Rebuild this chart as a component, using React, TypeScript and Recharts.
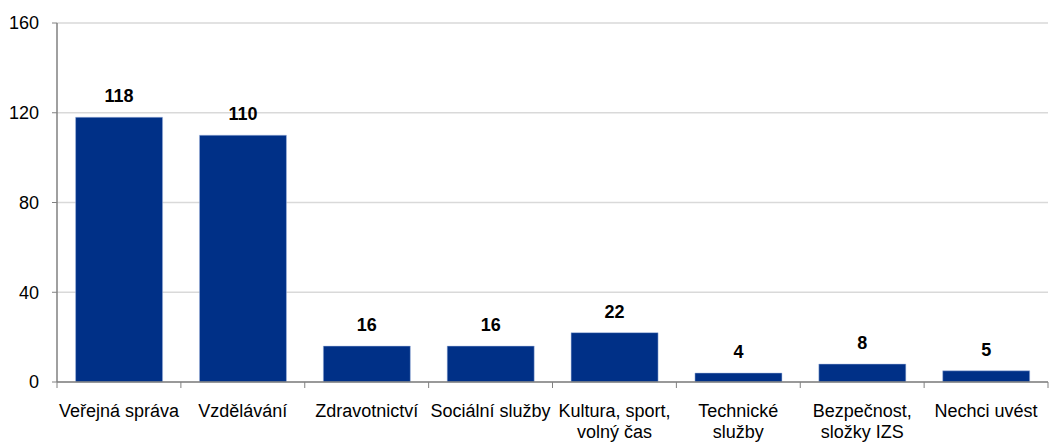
import { BarChart, Bar, XAxis, YAxis, CartesianGrid, LabelList } from "recharts";

const categories = [
  "Veřejná správa",
  "Vzdělávání",
  "Zdravotnictví",
  "Sociální služby",
  "Kultura, sport,|volný čas",
  "Technické|služby",
  "Bezpečnost,|složky IZS",
  "Nechci uvést",
];
const values = [118, 110, 16, 16, 22, 4, 8, 5];
const yTicks = [0, 40, 80, 120, 160];

const data = categories.map((name, i) => ({ name, value: values[i] }));

const W = 1049;
const H = 444;
const M = { top: 23, right: 1, bottom: 0, left: 0 };
const Y_W = 57;
const BAND = (W - M.left - M.right - Y_W) / categories.length;
const FONT = "Liberation Sans, Arial, sans-serif";

const CategoryTick = (props: any) => {
  const { x, y, payload, index } = props;
  const lines = String(payload.value).split("|");
  return (
    <g>
      <line x1={x - BAND / 2} x2={x - BAND / 2} y1={y - 8} y2={y - 2} stroke="#808080" />
      {index === categories.length - 1 && (
        <line x1={x + BAND / 2} x2={x + BAND / 2} y1={y - 8} y2={y - 2} stroke="#808080" />
      )}
      <text x={x} y={y + 27} textAnchor="middle" fill="#000" fontSize={18} fontFamily={FONT}>
        {lines.map((l, i) => (
          <tspan key={i} x={x} dy={i === 0 ? 0 : 21}>
            {l}
          </tspan>
        ))}
      </text>
    </g>
  );
};

export default function App() {
  return (
    <div style={{ position: "absolute", left: 0, top: 0, background: "#fff" }}>
      <BarChart width={W} height={H} data={data} margin={M} barCategoryGap="15%">
        <CartesianGrid horizontal vertical={false} stroke="#d9d9d9" strokeWidth={1.5} />
        <XAxis
          dataKey="name"
          interval={0}
          tickLine={false}
          axisLine={{ stroke: "#808080", strokeWidth: 1.5 }}
          tick={<CategoryTick />}
          height={62}
        />
        <YAxis
          domain={[0, 160]}
          ticks={yTicks}
          width={Y_W}
          tickSize={5}
          tickMargin={13}
          axisLine={{ stroke: "#808080", strokeWidth: 1.5 }}
          tickLine={{ stroke: "#808080" }}
          tick={{ fill: "#000", fontSize: 18, fontFamily: FONT }}
        />
        <Bar dataKey="value" fill="#003087" stroke="#a9bde3" strokeWidth={0.5} isAnimationActive={false}>
          <LabelList
            dataKey="value"
            position="top"
            offset={15}
            fill="#000"
            fontSize={18}
            fontWeight="bold"
            fontFamily={FONT}
          />
        </Bar>
      </BarChart>
    </div>
  );
}
